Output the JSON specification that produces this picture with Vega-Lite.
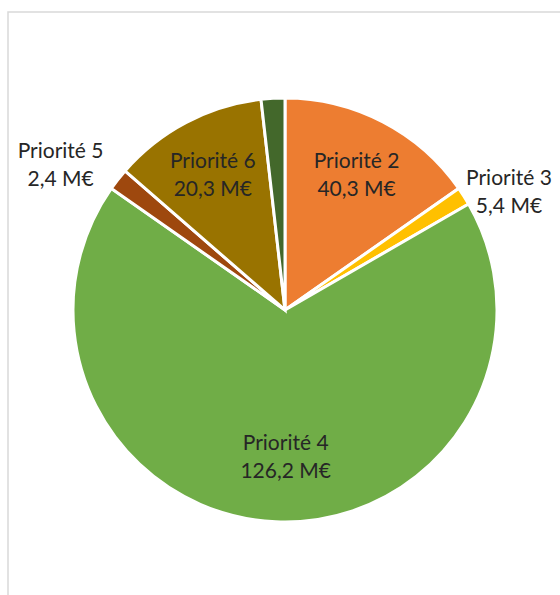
{
  "$schema": "https://vega.github.io/schema/vega-lite/v6.json",
  "width": 554,
  "height": 596,
  "autosize": {"type": "none"},
  "padding": {"left": 8, "top": 12, "right": 0, "bottom": 0},
  "background": "white",
  "view": {"stroke": "#D9D9D9", "strokeWidth": 1.5},
  "data": {
    "values": [
      {"category": "Priorité 2", "rank": 1, "value": 55, "label": "Priorité 2\n40,3 M€"},
      {"category": "Priorité 3", "rank": 2, "value": 5, "label": "Priorité 3\n5,4 M€"},
      {"category": "Priorité 4", "rank": 3, "value": 245, "label": "Priorité 4\n126,2 M€"},
      {"category": "Priorité 5", "rank": 4, "value": 6, "label": "Priorité 5\n2,4 M€"},
      {"category": "Priorité 6", "rank": 5, "value": 42.5, "label": "Priorité 6\n20,3 M€"},
      {"category": "Autre", "rank": 6, "value": 6.5, "label": ""}
    ]
  },
  "encoding": {
    "theta": {"field": "value", "type": "quantitative", "stack": true},
    "order": {"field": "rank", "type": "quantitative", "sort": "ascending"}
  },
  "layer": [
    {
      "mark": {"type": "arc", "radius": 212, "stroke": "white", "strokeWidth": 3},
      "encoding": {
        "color": {
          "field": "category",
          "type": "nominal",
          "scale": {
            "domain": ["Priorité 2", "Priorité 3", "Priorité 4", "Priorité 5", "Priorité 6", "Autre"],
            "range": ["#ED7D31", "#FFC000", "#70AD47", "#9E480E", "#997300", "#43682B"]
          },
          "legend": null
        }
      }
    },
    {
      "mark": {"type": "text", "radius": 155, "dy": -11, "font": "Lato", "fontSize": 21, "lineHeight": 28, "lineBreak": "\n", "color": "#262626", "align": "center", "baseline": "middle"},
      "encoding": {
        "text": {"condition": {"test": "datum.category === 'Priorité 2' || datum.category === 'Priorité 6'", "field": "label"}, "value": ""}
      }
    },
    {
      "mark": {"type": "text", "radius": 145, "dx": 7, "dy": -11, "font": "Lato", "fontSize": 21, "lineHeight": 28, "lineBreak": "\n", "color": "#262626", "align": "center", "baseline": "middle"},
      "encoding": {
        "text": {"condition": {"test": "datum.category === 'Priorité 4'", "field": "label"}, "value": ""}
      }
    },
    {
      "mark": {"type": "text", "radius": 262, "dx": 3, "dy": 10, "font": "Lato", "fontSize": 21, "lineHeight": 28, "lineBreak": "\n", "color": "#262626", "align": "center", "baseline": "middle"},
      "encoding": {
        "text": {"condition": {"test": "datum.category === 'Priorité 3'", "field": "label"}, "value": ""}
      }
    },
    {
      "mark": {"type": "text", "radius": 262, "dx": -18, "dy": 3, "font": "Lato", "fontSize": 21, "lineHeight": 28, "lineBreak": "\n", "color": "#262626", "align": "center", "baseline": "middle"},
      "encoding": {
        "text": {"condition": {"test": "datum.category === 'Priorité 5'", "field": "label"}, "value": ""}
      }
    }
  ]
}
